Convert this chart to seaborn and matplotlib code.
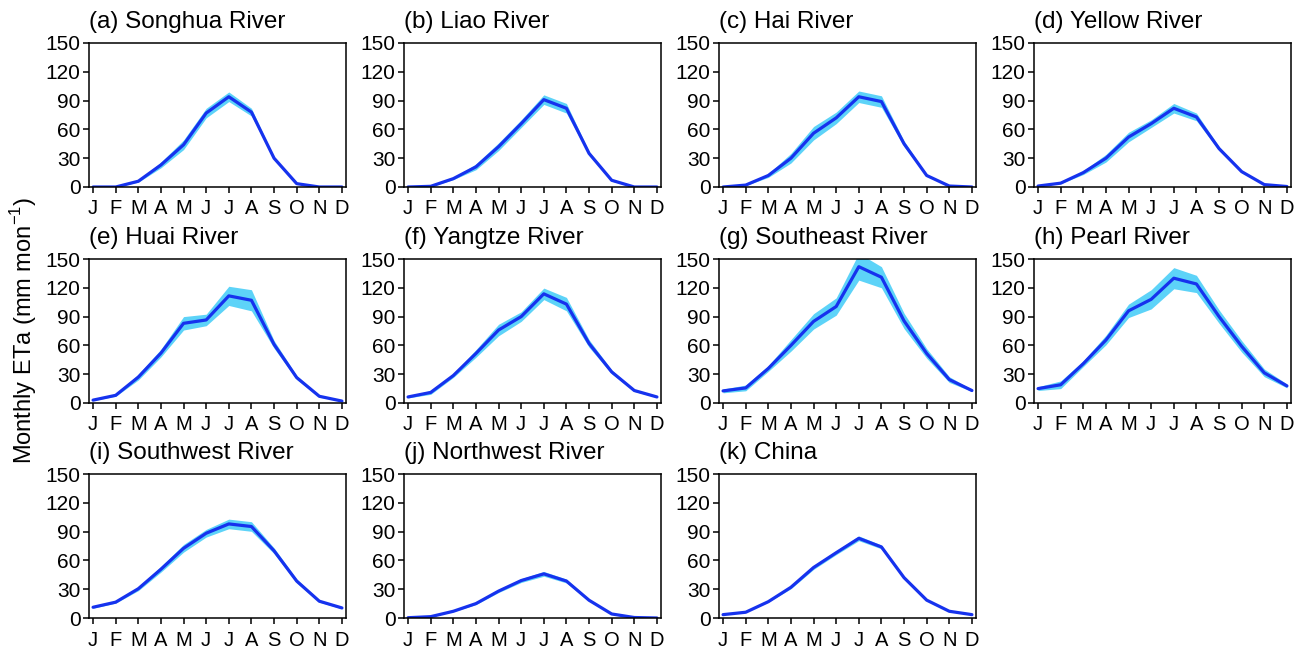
import matplotlib
matplotlib.use("Agg")
import matplotlib.pyplot as plt
import seaborn as sns
import numpy as np

# Month labels
months = ['J', 'F', 'M', 'A', 'M', 'J', 'J', 'A', 'S', 'O', 'N', 'D']
month_idx = np.arange(12)

titles = ['(a) Songhua River', '(b) Liao River', '(c) Hai River', '(d) Yellow River',
          '(e) Huai River', '(f) Yangtze River', '(g) Southeast River', '(h) Pearl River',
          '(i) Southwest River', '(j) Northwest River', '(k) China']

# Mean monthly ETa (mm/mon) per basin
songhua = [0, 0, 6, 23, 44, 77, 94, 78, 30, 3.5, 0, 0]
liao = [0, 0.7, 8.7, 21, 42, 66, 91, 82, 35, 7, 0, 0]
hai = [0, 2, 12, 30, 56, 72, 94, 89, 45, 12, 1, 0]
yellow = [1, 4, 15, 30, 52, 66, 82, 73, 40, 16, 2.5, 0.5]
huai = [3, 8, 27, 52, 83, 86.5, 111.6, 107, 61, 26.5, 7, 2]
yangtze = [6.3, 11, 28.6, 51.6, 76, 90, 113.7, 103, 62, 32.4, 13, 6.3]
southeast = [12.6, 15.7, 36, 60, 85, 100.5, 142, 131, 85.5, 51.6, 24.4, 13]
pearl = [15, 19, 41, 65.6, 96, 108, 130, 124, 90, 59, 31.4, 17.8]
southwest = [11.2, 16.5, 30.5, 50.8, 72.6, 88.3, 98, 95.3, 70, 38.5, 17.5, 10.5]
northwest = [0.3, 1.4, 7, 15, 28, 39, 46, 38.5, 18.5, 4.2, 0.5, 0]
china = [3.5, 6, 17, 32, 52.6, 68, 83, 74, 42, 18.6, 7, 3.5]

# Half-width of the shaded range
songhua_sp = [0, 0, 1, 3, 5, 5, 5, 4, 1, 0.5, 0, 0]
liao_sp = [0, 0.5, 1, 3, 4, 4, 5, 5, 2, 1, 0, 0]
hai_sp = [0, 0.5, 2, 5, 7, 6, 6, 6, 3, 1, 0, 0]
yellow_sp = [0, 0.5, 2, 4, 5, 4, 5, 4, 2, 1, 0, 0]
huai_sp = [0.5, 1, 3, 4, 7, 6, 10, 11, 4, 2, 1, 0]
yangtze_sp = [1, 2, 2, 4, 6, 5, 6, 7, 4, 2, 1, 0.5]
southeast_sp = [2, 3, 3, 6, 8, 9, 14, 11, 8, 5, 3, 1]
pearl_sp = [2, 4, 3, 5, 7, 10, 11, 9, 7, 6, 4, 2]
southwest_sp = [1, 1, 2, 3, 4, 4, 5, 5, 3, 2, 1, 1]
northwest_sp = [0, 0, 0.5, 1, 1.5, 2, 2.5, 2, 1, 0.5, 0, 0]
china_sp = [0, 0, 0.5, 1.5, 2, 2, 2.5, 2, 1, 0.5, 0, 0]

means = [songhua, liao, hai, yellow, huai, yangtze, southeast, pearl, southwest, northwest, china]
spreads = [songhua_sp, liao_sp, hai_sp, yellow_sp, huai_sp, yangtze_sp, southeast_sp,
           pearl_sp, southwest_sp, northwest_sp, china_sp]

sns.set_style('ticks')
plt.rcParams['font.family'] = ['Liberation Sans', 'DejaVu Sans']
plt.rcParams['text.color'] = 'black'
plt.rcParams['xtick.color'] = 'black'
plt.rcParams['ytick.color'] = 'black'
plt.rcParams['axes.labelcolor'] = 'black'

fig = plt.figure(figsize=(13.02, 6.47), dpi=100)

W, H = 1302.0, 647.0
col_left = [89, 404, 719, 1034]
row_bottom = [187, 403, 618]
ax_w, ax_h = 257, 144

line_col = '#1632ee'
band_col = '#5dd3f8'

for i, (t, m, s) in enumerate(zip(titles, means, spreads)):
    r, c = divmod(i, 4)
    ax = fig.add_axes([col_left[c] / W, 1 - row_bottom[r] / H, ax_w / W, ax_h / H])
    m = np.array(m)
    s = np.array(s)
    ax.fill_between(month_idx, m - s, m + s, color=band_col, lw=0)
    sns.lineplot(x=month_idx, y=m, ax=ax, color=line_col, lw=2.3)
    ax.set_xlim(-0.18, 11.18)
    ax.set_ylim(0, 150)
    ax.set_yticks(np.arange(0, 151, 30))
    ax.set_xticks(month_idx)
    ax.set_xticklabels(months)
    ax.tick_params(axis='both', direction='out', length=4, width=1.1, color='black')
    ax.tick_params(axis='y', labelsize=15, pad=2)
    ax.tick_params(axis='x', labelsize=14.5, pad=5)
    for sp in ax.spines.values():
        sp.set_linewidth(1.1)
        sp.set_color('black')
    ax.set_title(t, loc='left', fontsize=17.5, pad=11, x=-0.0, color='black')
    ax.set_xlabel('')
    ax.set_ylabel('')

fig.text(0.018, 0.49, 'Monthly ETa (mm mon$^{\\mathregular{-1}}$)', rotation=90,
         ha='center', va='center', fontsize=17)

fig.savefig('out.png', dpi=100)
